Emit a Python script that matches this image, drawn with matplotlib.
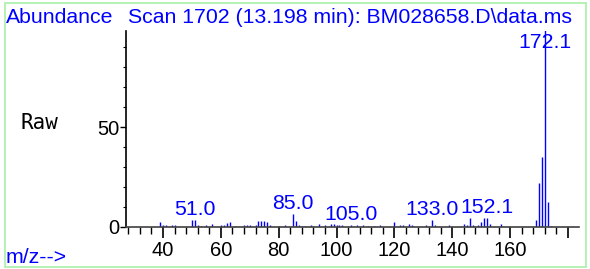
import matplotlib.pyplot as plt
from matplotlib.patches import Rectangle
from matplotlib.ticker import FixedLocator, MultipleLocator

# mass spectrum, scan 1702
mz = [39, 40, 41, 43, 44, 50, 51, 52, 53, 55, 57, 60, 61, 62, 63, 65,
      68, 69, 70, 72, 73, 74, 75, 76, 77, 80, 82, 85, 86, 87, 88, 89,
      91, 92, 94, 96, 98, 99, 100, 101, 102, 105, 107, 109, 111, 113, 115,
      120, 122, 123, 125, 126, 131, 133, 134, 139, 144, 145, 146, 147,
      149, 150, 151, 152, 153, 157, 169, 170, 171, 172, 173, 174]
abundance = [2.4, 0.8, 1.0, 1.0, 1.0, 3.5, 3.5, 1.0, 0.6, 1.0, 1.7, 0.8, 1.0, 2.0, 2.5, 0.6,
             1.0, 1.0, 1.0, 1.0, 3.0, 3.0, 3.0, 2.5, 1.0, 0.6, 1.0, 6.5, 3.0, 1.0, 0.6, 0.6,
             0.8, 0.6, 1.7, 1.0, 1.7, 1.7, 1.0, 1.0, 1.0, 0.8, 0.8, 0.8, 0.6, 0.6, 0.8,
             2.5, 1.0, 1.0, 1.7, 1.0, 1.0, 3.5, 1.0, 1.0, 1.7, 1.0, 4.5, 1.0,
             1.0, 2.5, 4.5, 4.5, 1.7, 1.7, 3.5, 22.0, 35.0, 100.0, 12.5, 0.6]

label_mz = [51, 85, 105, 133, 152, 172]
label_text = ["51.0", "85.0", "105.0", "133.0", "152.1", "172.1"]

x_major = [40, 60, 80, 100, 120, 140, 160, 180]
x_labels = ["40", "60", "80", "100", "120", "140", "160", ""]

BLUE = "#0000ff"
plt.rcParams["font.family"] = ["Liberation Sans", "DejaVu Sans"]

fig = plt.figure(figsize=(5.9, 2.69), dpi=100)
ax = fig.add_axes([126 / 590, 1 - 227 / 269, (579 - 126) / 590, (227 - 31) / 269])

ax.vlines(mz, 0, abundance, color=BLUE, linewidth=1.0)

heights = dict(zip(mz, abundance))
for m, t in zip(label_mz, label_text):
    y = min(heights[m], 87)
    ax.annotate(t, (m, y), xytext=(0, 3.6), textcoords="offset points",
                ha="center", va="baseline", color=BLUE, fontsize=15.3)

ax.set_xlim(27.2, 183.8)
ax.set_ylim(0, 98)

for side in ["top", "right"]:
    ax.spines[side].set_visible(False)
ax.spines["left"].set_linewidth(1.2)
ax.spines["bottom"].set_linewidth(1.2)
ax.spines["bottom"].set_color("#404040")

ax.xaxis.set_major_locator(FixedLocator(x_major))
ax.set_xticklabels(x_labels)
ax.xaxis.set_minor_locator(MultipleLocator(4))
ax.yaxis.set_major_locator(FixedLocator([0, 50]))
ax.yaxis.set_minor_locator(MultipleLocator(10))

ax.tick_params(axis="x", which="major", length=8, width=1.2, labelsize=14.5, pad=2)
ax.tick_params(axis="x", which="minor", length=5, width=1.0)
ax.tick_params(axis="y", which="major", length=4, width=1.0, labelsize=14.5, pad=1)
ax.tick_params(axis="y", which="minor", length=2.5, width=0.8)

fig.text(6 / 590, 1 - 23 / 269, "Abundance", color=BLUE, fontsize=15.3, va="baseline", ha="left")
fig.text(128 / 590, 1 - 23 / 269, "Scan 1702 (13.198 min): BM028658.D\\data.ms",
         color=BLUE, fontsize=15.3, va="baseline", ha="left")
fig.text(20 / 590, 1 - 129 / 269, "Raw", color="black", fontsize=15, va="baseline",
         ha="left", family="DejaVu Sans Mono")
fig.text(6 / 590, 1 - 263 / 269, "m/z-->", color=BLUE, fontsize=15.3, va="baseline", ha="left")

fig.patches.append(Rectangle((5 / 590, 1 - 267 / 269), 581 / 590, 264 / 269,
                             transform=fig.transFigure, fill=False,
                             edgecolor="#a8f0a8", linewidth=1.2))

fig.savefig("out.png", dpi=100)
